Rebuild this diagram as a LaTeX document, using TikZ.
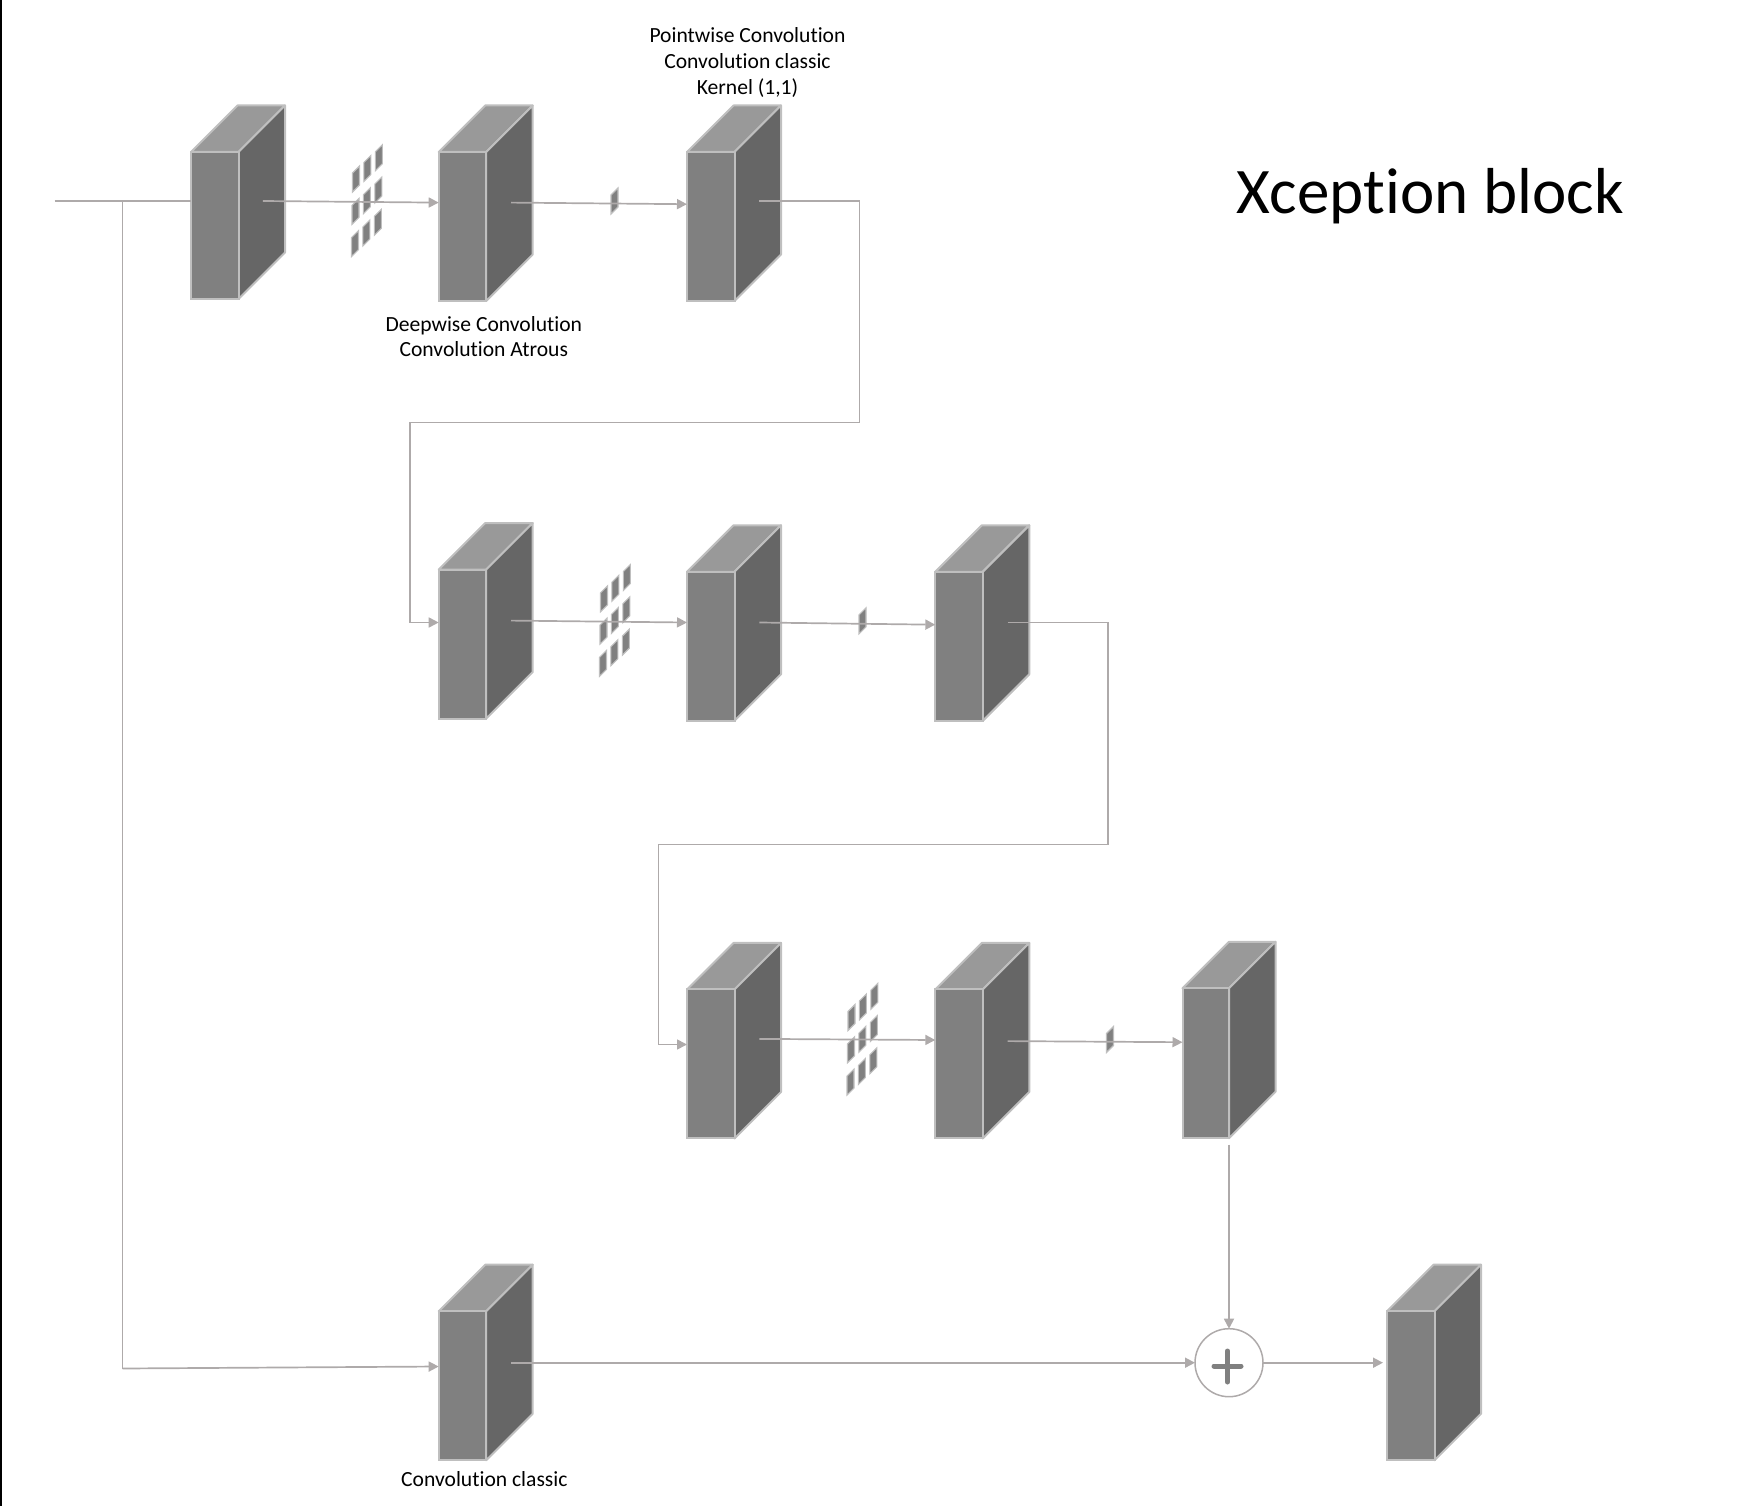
\documentclass[tikz,border=0pt]{standalone}
\usepackage{fontspec}
\setmainfont[Ligatures=NoCommon]{Carlito}
\usetikzlibrary{arrows.meta}
\definecolor{edgecol}{RGB}{191,191,191}
\definecolor{conncol}{RGB}{174,170,170}
\tikzset{
  frontface/.style={draw=edgecol,line width=2pt,fill=black!50,inner sep=0pt,outer sep=0pt,anchor=north west},
  topface/.style={draw=edgecol,line width=2pt,fill=black!40,line join=round},
  sideface/.style={draw=edgecol,line width=2pt,fill=black!60,line join=round},
  cellface/.style={draw=edgecol,line width=1.1pt,fill=black!50},
  conn/.style={draw=conncol,line width=1.7pt,-{Triangle[length=10pt,width=10pt]}},
  plainconn/.style={draw=conncol,line width=1.7pt},
  addcircle/.style={shape=circle,draw=conncol,line width=1.5pt,minimum size=68pt,inner sep=0pt,outer sep=0pt},
  lbl/.style={inner sep=0pt,align=center,font=\fontsize{21.6}{25.6}\selectfont},
}
% #1 front width, #2 name, #3 #4 front top left, #5 front height
\newcommand{\cuboid}[5][47.5]{
  \draw[topface] (#3,#4) -- ++(46.5,-46.5) -- ++(#1,0) -- ++(-46.5,46.5) -- cycle;
  \draw[sideface] (#3+#1,#4) -- ++(46.5,-46.5) -- ++(0,#5) -- ++(-46.5,46.5) -- cycle;
  \node[frontface,minimum width=#1pt,minimum height=#5pt] (#2) at (#3,#4) {};
}
% one small filter cell, #1 #2 top left
\newcommand{\filtercell}[2]{
  \draw[cellface] (#1,#2) -- ++(7,-7) -- ++(0,19) -- ++(-7,7) -- cycle;
}
% 3x3 filter, #1 #2 top left of the first cell
\newcommand{\filtergrid}[2]{
  \foreach \rw in {0,1,2}
    \foreach \cl in {0,1,2}
      {\filtercell{#1+11.4*\cl-.5*\rw}{#2-10.6*\cl+32.3*\rw}}
}
\begin{document}
\begin{tikzpicture}[x=1pt,y=-1pt]
\path[use as bounding box] (0,0) rectangle (1746,1506);
\fill[black] (0,0) rectangle (2,1506);
% filters
\filtergrid{352.5}{173}
\filtergrid{600.5}{592.8}
\filtergrid{848}{1011.5}
\filtercell{611}{195}
\filtercell{859}{614.8}
\filtercell{1106.5}{1033.5}
% first row
\cuboid{aone}{191}{152}{147}
\cuboid{atwo}{438.7}{152}{149}
\cuboid{athree}{687}{152}{149}
% second row
\cuboid{bone}{438.7}{569.6}{149}
\cuboid{btwo}{687}{571.8}{149}
\cuboid{bthree}{935.3}{571.8}{149}
% third row
\cuboid{cone}{687}{989.4}{149}
\cuboid{ctwo}{935.3}{989.4}{149}
\cuboid[46.5]{cthree}{1182.5}{988.3}{150}
% last row
\cuboid{done}{438.7}{1311.2}{149}
\cuboid{dtwo}{1387}{1311.2}{149}
\node[addcircle] (adder) at (1229,1362.7) {};
\draw[black!50,line width=5pt,line cap=round] (1214,1366) -- (1241,1366);
\draw[black!50,line width=5pt,line cap=round] (1227.5,1351) -- (1227.5,1382);
% ports
\coordinate (start) at (54.5,201);
\coordinate (split) at (122.5,202);
\coordinate (turn) at (122.5,1368.5);
\coordinate (aonein) at (191,201);
\coordinate (aoneout) at (262.8,201);
\coordinate (atwoin) at (438.7,202.6);
\coordinate (atwoout) at (511,202.6);
\coordinate (athreein) at (687,204.2);
\coordinate (athreeout) at (759.4,201);
\coordinate (aright) at (859.6,201);
\coordinate (amid) at (859.6,422.5);
\coordinate (bleftup) at (410.3,422.5);
\coordinate (bleft) at (410.3,622.5);
\coordinate (bonein) at (438.7,622.5);
\coordinate (boneout) at (511,620.6);
\coordinate (btwoin) at (687,622.5);
\coordinate (btwoout) at (759.4,622.5);
\coordinate (bthreein) at (935.3,624.7);
\coordinate (bthreeout) at (1007.7,622.5);
\coordinate (bright) at (1107.9,622.5);
\coordinate (bmid) at (1107.9,844.5);
\coordinate (cleftup) at (658.6,844.5);
\coordinate (cleft) at (658.6,1044.5);
\coordinate (conein) at (687,1044.5);
\coordinate (coneout) at (759.4,1038.9);
\coordinate (ctwoin) at (935.3,1040);
\coordinate (ctwoout) at (1007.7,1041.1);
\coordinate (cthreein) at (1182.5,1042.2);
\coordinate (cthreeout) at (1229,1144.5);
\coordinate (donein) at (438.7,1366.5);
\coordinate (doneout) at (511,1362.7);
\coordinate (dtwoin) at (1383,1362.7);
% connectors
\draw[plainconn] (start) -- (aonein);
\draw[conn] (aoneout) -- (atwoin);
\draw[conn] (atwoout) -- (athreein);
\draw[plainconn] (athreeout) -- (aright) -- (amid) -- (bleftup) -- (bleft);
\draw[conn] (bleft) -- (bonein);
\draw[conn] (boneout) -- (btwoin);
\draw[conn] (btwoout) -- (bthreein);
\draw[plainconn] (bthreeout) -- (bright) -- (bmid) -- (cleftup) -- (cleft);
\draw[conn] (cleft) -- (conein);
\draw[conn] (coneout) -- (ctwoin);
\draw[conn] (ctwoout) -- (cthreein);
\draw[conn] (cthreeout) -- (adder.north);
\draw[plainconn] (split) -- (turn);
\draw[conn] (turn) -- (donein);
\draw[conn] (doneout) -- (adder.west);
\draw[conn] (adder.east) -- (dtwoin);
% labels
\node[lbl] (pointlbl) at (747.5,62.5) {Pointwise Convolution\\Convolution classic\\Kernel (1,1)};
\node[lbl] (deeplbl) at (483.8,336.5) {Deepwise Convolution\\Convolution Atrous};
\node[lbl] (classiclbl) at (484.4,1479) {Convolution classic};
\node[inner sep=0pt,font=\fontsize{65}{70}\selectfont] (titlelbl) at (1430,196.5) {Xception block};
\end{tikzpicture}
\end{document}
